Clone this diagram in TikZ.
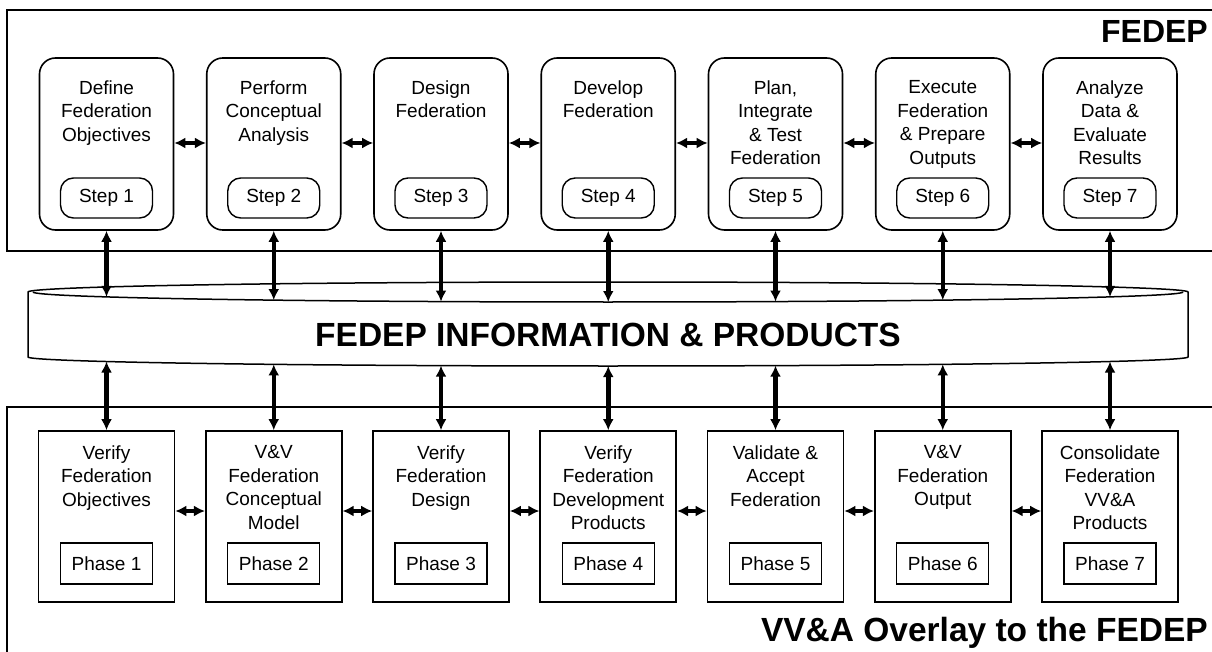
\documentclass[tikz,border=0pt]{standalone}
\usepackage{fontspec}
\setmainfont{Liberation Sans}
\usetikzlibrary{arrows.meta}
\begin{document}
\begin{tikzpicture}[x=1pt,y=-1pt,
  frame/.style={line width=1.6pt},
  topbox/.style={draw,line width=1.6pt,rounded corners=16pt,minimum width=134pt,minimum height=172pt,inner sep=0pt},
  stepoval/.style={draw,line width=1.4pt,rounded corners=13pt,minimum width=92pt,minimum height=40pt,inner sep=0pt,font=\fontsize{19}{22}\selectfont},
  botbox/.style={draw,line width=1.6pt,minimum width=136pt,minimum height=171pt,inner sep=0pt},
  phasebox/.style={draw,line width=1.4pt,minimum width=92pt,minimum height=41pt,inner sep=0pt,font=\fontsize{19}{22}\selectfont},
  lbl/.style={anchor=north,align=center,inner sep=0pt,font=\fontsize{19}{23.5}\selectfont},
  big/.style={inner sep=0pt,font=\fontsize{33.5}{36}\selectfont\bfseries},
  dbl/.style={line width=4.5pt,{Latex[length=11pt,width=11pt]}-{Latex[length=11pt,width=11pt]}},
  band/.style={draw,line width=1.5pt,fill=white}
]
\useasboundingbox[fill=white] (0,0) rectangle (1212,652);
% frames
\draw[frame] (1213,10) -- (7,10) -- (7,251) -- (1213,251);
\draw[frame] (1213,407) -- (7,407) -- (7,653);
% band
\draw[band] (28,292) arc[start angle=180,end angle=360,x radius=580,y radius=10]
  -- (1188,357) arc[start angle=0,end angle=180,x radius=580,y radius=9] -- cycle;
\draw[line width=1.5pt] (33,292) arc[start angle=180,end angle=0,x radius=575,y radius=10];
\node[big,anchor=base] (info) at (608,346.5) {FEDEP INFORMATION \& PRODUCTS};
% titles
\node[big,anchor=base east,font=\fontsize{32}{36}\selectfont\bfseries] (fedep) at (1208,43) {FEDEP};
\node[big,anchor=base east] (vva) at (1208,641) {VV\&A Overlay to the FEDEP};
% boxes
\foreach \i/\cx/\yt/\yb in {1/106.5/296.9/361.5,2/273.75/300.1/364.4,3/441/301.6/365.6,4/608.25/302/366,5/775.5/301.6/365.6,6/942.75/300.1/364.4,7/1110/296.9/361.5}{
  \node[topbox] (t\i) at (\cx,144) {};
  \node[stepoval] (s\i) at (\cx,198) {Step \i};
  \node[botbox] (v\i) at (\cx,516.5) {};
  \node[phasebox] (p\i) at (\cx,563.5) {Phase \i};
  \coordinate (bt\i) at (\cx,\yt);
  \coordinate (bb\i) at (\cx,\yb);
}
% top texts
\node[lbl] (tt1) at (106.5,80.5) {Define\\Federation\\Objectives};
\node[lbl] (tt2) at (273.75,80.5) {Perform\\Conceptual\\Analysis};
\node[lbl] (tt3) at (441,80.5) {Design\\Federation};
\node[lbl] (tt4) at (608.25,80.5) {Develop\\Federation};
\node[lbl] (tt5) at (775.5,80.5) {Plan,\\Integrate\\\& Test\\Federation};
\node[lbl] (tt6) at (942.75,80.5) {Execute\\Federation\\\& Prepare\\Outputs};
\node[lbl] (tt7) at (1110,80.5) {Analyze\\Data \&\\Evaluate\\Results};
% bottom texts
\node[lbl] (bt1x) at (106.5,445.5) {Verify\\Federation\\Objectives};
\node[lbl] (bt2x) at (273.75,445.5) {V\&V\\Federation\\Conceptual\\Model};
\node[lbl] (bt3x) at (441,445.5) {Verify\\Federation\\Design};
\node[lbl] (bt4x) at (608.25,445.5) {Verify\\Federation\\Development\\Products};
\node[lbl] (bt5x) at (775.5,445.5) {Validate \&\\Accept\\Federation};
\node[lbl] (bt6x) at (942.75,445.5) {V\&V\\Federation\\Output};
\node[lbl] (bt7x) at (1110,445.5) {Consolidate\\Federation\\VV\&A\\Products};
% arrows
\foreach \i in {1,...,6}{
  \pgfmathtruncatemacro{\j}{\i+1}
  \draw[dbl] ([yshift=1pt]t\i.east) -- ([yshift=1pt]t\j.west);
  \draw[dbl] ([yshift=5.5pt]v\i.east) -- ([yshift=5.5pt]v\j.west);
}
\foreach \i in {1,...,7}{
  \draw[dbl] (t\i.south) -- (bt\i);
  \draw[dbl] (bb\i) -- (v\i.north);
}
\end{tikzpicture}
\end{document}
